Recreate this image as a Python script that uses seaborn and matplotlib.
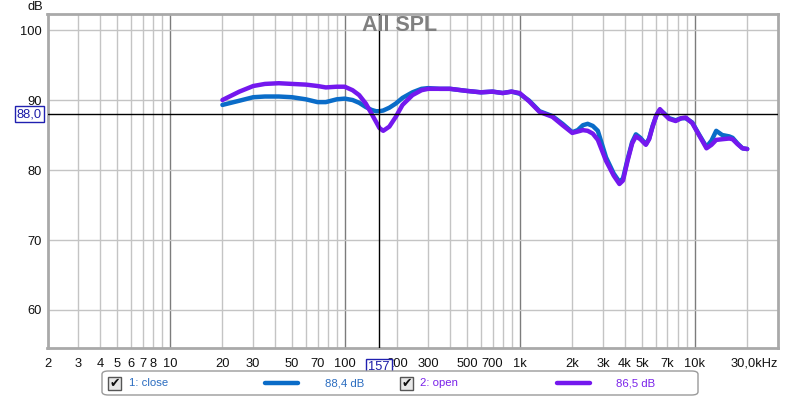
import numpy as np
import pandas as pd
import matplotlib
matplotlib.use("Agg")
import matplotlib.pyplot as plt
import seaborn as sns
from matplotlib.patches import FancyBboxPatch, Rectangle

# frequency points (Hz), shared by both measurements
freq = [20, 25, 30, 35, 42, 50, 60, 70, 78, 90, 100, 111, 121, 132, 142, 151, 158,
        166, 180, 196, 214, 244, 275, 300, 350, 400, 500, 600, 700, 800, 900,
        1000, 1135, 1300, 1540, 1760, 2000, 2150, 2300, 2450, 2620, 2800, 3120, 3450,
        3720, 3900, 4140, 4400, 4620, 4900, 5270, 5500, 5760, 6050, 6340, 6700, 7160,
        7800, 8400, 8900, 9700, 10600, 11700, 12500, 13300, 14400, 15800, 16500,
        17600, 18800, 20000]

spl_close = [89.3, 89.9, 90.4, 90.5, 90.5, 90.4, 90.1, 89.7, 89.7, 90.1, 90.2, 90.0,
             89.6, 89.0, 88.6, 88.4, 88.4, 88.5, 88.9, 89.5, 90.3, 91.1, 91.6,
             91.7, 91.6, 91.6, 91.3, 91.1, 91.2, 91.0, 91.2, 90.9, 89.9, 88.4, 87.7,
             86.6, 85.4, 85.7, 86.4, 86.6, 86.3, 85.6, 81.8, 79.5, 78.3, 78.8, 81.5,
             84.0, 85.1, 84.6, 83.7, 84.5, 86.3, 87.8, 88.6, 88.1, 87.4, 87.1, 87.4,
             87.4, 86.8, 85.1, 83.3, 84.2, 85.6, 85.0, 84.8, 84.6, 83.8, 83.1, 83.0]

spl_open = [90.0, 91.2, 92.0, 92.3, 92.4, 92.3, 92.2, 92.0, 91.8, 91.9, 91.9, 91.4,
            90.7, 89.5, 88.1, 86.9, 86.0, 85.6, 86.2, 87.6, 89.3, 90.7, 91.4,
            91.6, 91.6, 91.6, 91.3, 91.1, 91.2, 91.0, 91.2, 91.0, 89.8, 88.3, 87.6,
            86.4, 85.3, 85.5, 85.7, 85.6, 85.2, 84.3, 81.3, 79.2, 78.0, 78.5, 81.3,
            83.8, 84.8, 84.4, 83.6, 84.4, 86.2, 87.8, 88.7, 88.0, 87.3, 87.0, 87.4,
            87.5, 86.7, 85.0, 83.1, 83.6, 84.3, 84.4, 84.5, 84.4, 83.7, 83.1, 83.0]

xtick_pos = [2, 3, 4, 5, 6, 7, 8, 10, 20, 30, 50, 70, 100, 200, 300, 500, 700,
             1000, 2000, 3000, 4000, 5000, 7000, 10000]
xtick_lab = ['2', '3', '4', '5', '6', '7', '8', '10', '20', '30', '50', '70', '100',
             '200', '300', '500', '700', '1k', '2k', '3k', '4k', '5k', '7k', '10k']
ytick_pos = [60, 70, 80, 90, 100]

legend_names = ['1: close', '2: open']
legend_avg = ['88,4 dB', '86,5 dB']
cursor_freq = 157
cursor_db = 88.0

c_close = '#0a6cc8'
c_open = '#7418ee'

df = pd.DataFrame({'freq': freq, 'close': spl_close, 'open': spl_open})

sns.set_style('white')
plt.rcParams['font.family'] = ['Liberation Sans', 'DejaVu Sans']

W, H = 800, 398
fig = plt.figure(figsize=(8, 3.98), dpi=100)
ax = fig.add_axes([47.5 / W, 1 - 348 / H, 730.5 / W, 334 / H])
ax.set_xscale('log')
ax.set_xlim(2, 30000)
ax.set_ylim(54.57, 102.29)

# grid
for dec in [1, 10, 100, 1000, 10000]:
    for m in range(1, 10):
        f = dec * m
        if f <= 2 or f >= 30000:
            continue
        dark = m == 1
        ax.axvline(f, color='#7c7c7c' if dark else '#c4c4c4', lw=1.0, zorder=1)
for y in ytick_pos:
    ax.axhline(y, color='#c4c4c4', lw=1.0, zorder=1)

sns.lineplot(data=df, x='freq', y='close', ax=ax, color=c_close, lw=3.2,
             estimator=None, zorder=3)
sns.lineplot(data=df, x='freq', y='open', ax=ax, color=c_open, lw=3.2,
             estimator=None, zorder=4)

# cursor
ax.axvline(cursor_freq, color='black', lw=1.0, zorder=5)
ax.axhline(cursor_db, color='black', lw=1.0, zorder=5)

ax.set_xticks(xtick_pos)
ax.set_xticklabels(xtick_lab)
ax.set_xticks([], minor=True)
ax.set_yticks(ytick_pos)
ax.set_yticklabels([str(v) for v in ytick_pos])
ax.tick_params(axis='both', length=0, labelsize=9.3, colors='#111111')
ax.tick_params(axis='x', pad=7)
ax.tick_params(axis='y', pad=4)
ax.set_xlabel('')
ax.set_ylabel('')
for s in ax.spines.values():
    s.set_color('#a9a9a9')
    s.set_linewidth(2.0)

ax.text(30000, -0.029, '30,0kHz', transform=ax.get_xaxis_transform(),
        ha='right', va='top', fontsize=9.3, color='#111111', clip_on=False)

box_kw = dict(boxstyle='square,pad=0.15', fc='white', ec='#2020b0', lw=1.0)
ax.text(cursor_freq, -0.038, str(cursor_freq), transform=ax.get_xaxis_transform(),
        ha='center', va='top', fontsize=9.3, color='#1c1ca8', bbox=box_kw,
        clip_on=False, zorder=10)
ax.text(-0.008, cursor_db, '88,0', transform=ax.get_yaxis_transform(),
        ha='right', va='center', fontsize=9.3, color='#1c1ca8', bbox=box_kw,
        clip_on=False, zorder=10)

fig.text(400 / W, 1 - 25.5 / H, 'All SPL', ha='center', va='center',
         fontsize=15.5, fontweight='bold', color='#808080')
fig.text(35 / W, 1 - 7 / H, 'dB', ha='center', va='center', fontsize=9.3,
         color='#111111')

# legend panel
leg = FancyBboxPatch((102 / W, 1 - 395 / H), 596 / W, 24 / H,
                     boxstyle='round,pad=0,rounding_size=0.008',
                     transform=fig.transFigure, fc='white', ec='#9a9a9a', lw=1.0)
fig.patches.append(leg)
yc = 1 - 383 / H
entries = [(108, 129, 265, 325, c_close, '#2a6cc0'),
           (400, 420, 557, 616, c_open, '#7a22ea')]
for (cb, tx, lx, ax_, lc, tc), name, avg in zip(entries, legend_names, legend_avg):
    fig.patches.append(Rectangle((cb / W, yc - 6.5 / H), 13 / W, 13 / H,
                                 transform=fig.transFigure, fc='#e8e8e8',
                                 ec='#555555', lw=1.0))
    fig.text((cb + 6.5) / W, yc, '\u2714', ha='center', va='center', fontsize=9,
             color='#111111', family=['DejaVu Sans'])
    fig.text(tx / W, yc, name, ha='left', va='center', fontsize=8.2, color=tc)
    fig.lines.append(plt.Line2D([lx / W, (lx + 33) / W], [yc, yc],
                                transform=fig.transFigure, color=lc, lw=3.2,
                                solid_capstyle='round'))
    fig.text(ax_ / W, yc, avg, ha='left', va='center', fontsize=8.2, color=tc)

fig.savefig('out.png', dpi=100)
